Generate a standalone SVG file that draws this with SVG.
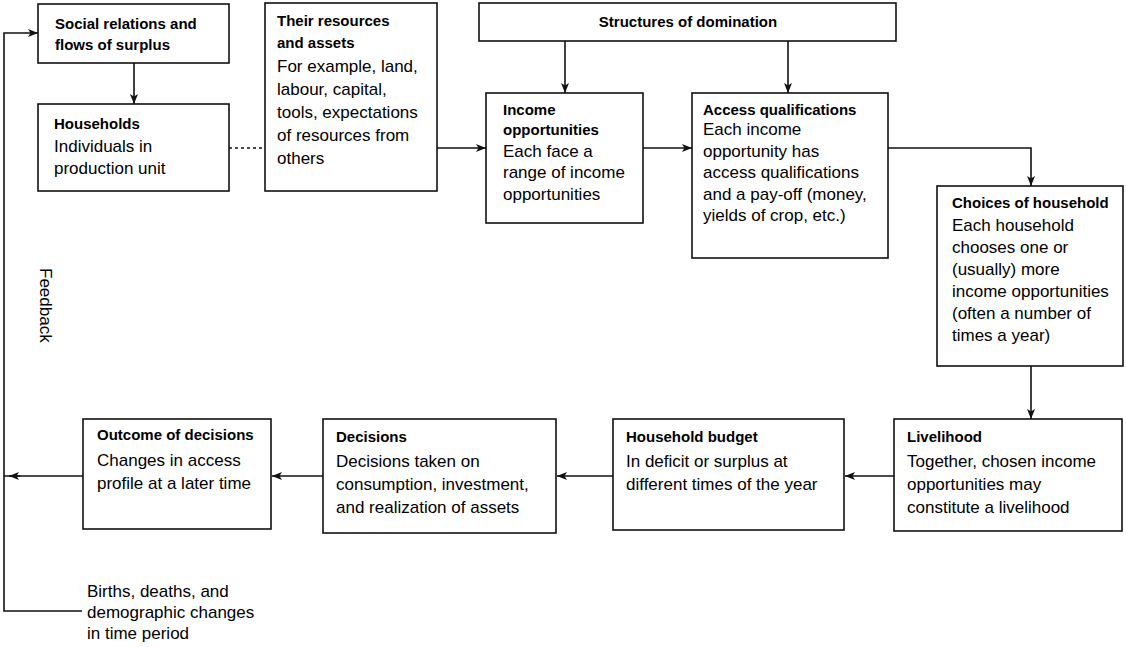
<svg xmlns="http://www.w3.org/2000/svg" width="1126" height="647" viewBox="0 0 1126 647">
  <style>
    .box { fill: #ffffff; stroke: #111; stroke-width: 1.6; }
    .ttl { font-family: "Liberation Sans", Arial, sans-serif; font-size: 15px; font-weight: bold; fill: #000; }
    .txt { font-family: "Liberation Sans", Arial, sans-serif; font-size: 17px; fill: #000; }
    .edge { fill: none; stroke: #111; stroke-width: 1.6; }
    .dash { fill: none; stroke: #111; stroke-width: 1.5; stroke-dasharray: 3 3; }
  </style>
  <defs>
    <marker id="arrow" viewBox="0 0 10 8" refX="10" refY="4" markerWidth="10" markerHeight="8" markerUnits="userSpaceOnUse" orient="auto">
      <path d="M0,0 L10,4 L0,8 L2.5,4 z" fill="#111"/>
    </marker>
  </defs>
  <rect width="1126" height="647" fill="#ffffff"/>

  <!-- connectors -->
  <g id="connectors">
    <path class="edge" d="M134,63 V104" marker-end="url(#arrow)"/>
    <path class="dash" d="M229,148 H265"/>
    <path class="edge" d="M437,148 H486" marker-end="url(#arrow)"/>
    <path class="edge" d="M565,41 V93" marker-end="url(#arrow)"/>
    <path class="edge" d="M788,41 V93" marker-end="url(#arrow)"/>
    <path class="edge" d="M643,148 H692" marker-end="url(#arrow)"/>
    <path class="edge" d="M888,148 H1031 V186" marker-end="url(#arrow)"/>
    <path class="edge" d="M1031,366 V419" marker-end="url(#arrow)"/>
    <path class="edge" d="M894,476 H845" marker-end="url(#arrow)"/>
    <path class="edge" d="M613,476 H557" marker-end="url(#arrow)"/>
    <path class="edge" d="M323,476 H272" marker-end="url(#arrow)"/>
    <path class="edge" d="M83,476 H4"/>
    <path class="edge" d="M20,476 H9" marker-end="url(#arrow)"/>
    <!-- feedback loop back to the top -->
    <path class="edge" d="M82,611 H4 V33 H38" marker-end="url(#arrow)"/>
    <text class="txt" font-size="16" transform="translate(40,268) rotate(90)">Feedback</text>
    <text class="txt">
      <tspan x="87" y="597">Births, deaths, and</tspan>
      <tspan x="87" y="618">demographic changes</tspan>
      <tspan x="87" y="639">in time period</tspan>
    </text>
  </g>

  <g id="social-relations">
    <rect class="box" x="38" y="4" width="191" height="59"/>
    <text class="ttl"><tspan x="55" y="29">Social relations and</tspan><tspan x="55" y="50">flows of surplus</tspan></text>
  </g>

  <g id="households">
    <rect class="box" x="38" y="104" width="191" height="87"/>
    <text class="ttl" x="54" y="129">Households</text>
    <text class="txt"><tspan x="54" y="152">Individuals in</tspan><tspan x="54" y="174">production unit</tspan></text>
  </g>

  <g id="resources">
    <rect class="box" x="265" y="3" width="172" height="188"/>
    <text class="ttl"><tspan x="277" y="26">Their resources</tspan><tspan x="277" y="48">and assets</tspan></text>
    <text class="txt">
      <tspan x="277" y="72">For example, land,</tspan>
      <tspan x="277" y="95">labour, capital,</tspan>
      <tspan x="277" y="118">tools, expectations</tspan>
      <tspan x="277" y="141">of resources from</tspan>
      <tspan x="277" y="164">others</tspan>
    </text>
  </g>

  <g id="structures">
    <rect class="box" x="479" y="3" width="417" height="38"/>
    <text class="ttl" x="688" y="27" text-anchor="middle">Structures of domination</text>
  </g>

  <g id="income-opportunities">
    <rect class="box" x="486" y="93" width="157" height="130"/>
    <text class="ttl"><tspan x="503" y="115">Income</tspan><tspan x="503" y="135">opportunities</tspan></text>
    <text class="txt">
      <tspan x="503" y="157">Each face a</tspan>
      <tspan x="503" y="178">range of income</tspan>
      <tspan x="503" y="200">opportunities</tspan>
    </text>
  </g>

  <g id="access-qualifications">
    <rect class="box" x="692" y="93" width="196" height="165"/>
    <text class="ttl" x="703" y="115">Access qualifications</text>
    <text class="txt">
      <tspan x="703" y="135">Each income</tspan>
      <tspan x="703" y="157">opportunity has</tspan>
      <tspan x="703" y="178">access qualifications</tspan>
      <tspan x="703" y="200">and a pay-off (money,</tspan>
      <tspan x="703" y="221">yields of crop, etc.)</tspan>
    </text>
  </g>

  <g id="choices">
    <rect class="box" x="937" y="186" width="186" height="180"/>
    <text class="ttl" x="952" y="208">Choices of household</text>
    <text class="txt">
      <tspan x="952" y="231">Each household</tspan>
      <tspan x="952" y="253">chooses one or</tspan>
      <tspan x="952" y="275">(usually) more</tspan>
      <tspan x="952" y="297">income opportunities</tspan>
      <tspan x="952" y="319">(often a number of</tspan>
      <tspan x="952" y="341">times a year)</tspan>
    </text>
  </g>

  <g id="livelihood">
    <rect class="box" x="894" y="419" width="228" height="112"/>
    <text class="ttl" x="907" y="442">Livelihood</text>
    <text class="txt">
      <tspan x="907" y="467">Together, chosen income</tspan>
      <tspan x="907" y="490">opportunities may</tspan>
      <tspan x="907" y="513">constitute a livelihood</tspan>
    </text>
  </g>

  <g id="household-budget">
    <rect class="box" x="613" y="419" width="231" height="111"/>
    <text class="ttl" x="626" y="442">Household budget</text>
    <text class="txt">
      <tspan x="626" y="467">In deficit or surplus at</tspan>
      <tspan x="626" y="490">different times of the year</tspan>
    </text>
  </g>

  <g id="decisions">
    <rect class="box" x="323" y="419" width="233" height="114"/>
    <text class="ttl" x="336" y="442">Decisions</text>
    <text class="txt">
      <tspan x="336" y="467">Decisions taken on</tspan>
      <tspan x="336" y="490">consumption, investment,</tspan>
      <tspan x="336" y="513">and realization of assets</tspan>
    </text>
  </g>

  <g id="outcome">
    <rect class="box" x="83" y="419" width="188" height="110"/>
    <text class="ttl" x="97" y="440">Outcome of decisions</text>
    <text class="txt">
      <tspan x="97" y="466">Changes in access</tspan>
      <tspan x="97" y="489">profile at a later time</tspan>
    </text>
  </g>
</svg>
